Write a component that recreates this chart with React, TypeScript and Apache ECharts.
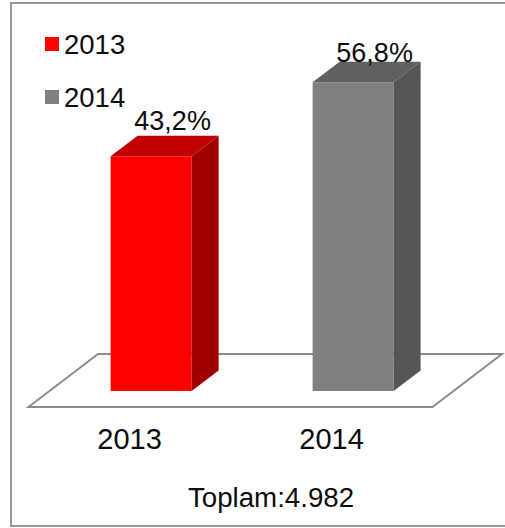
import React, { useEffect, useRef } from "react";
import * as echarts from "echarts";

const categories = ["2013", "2014"];
const seriesNames = ["2013", "2014"];
const values = [43.2, 56.8];
const totalLabel = "Toplam:4.982";

const FONT = "Liberation Sans";
const faces = [
  { front: "#ff0000", top: "#c00000", side: "#a00000" },
  { front: "#808080", top: "#606060", side: "#555555" },
];
const labelLift = [35, 29.5];

const barRender = (index: number) => (params: any, api: any) => {
  const cat = api.value(0);
  const val = api.value(1);
  const base = api.coord([cat, 0]);
  const top = api.coord([cat, val]);
  const bandW = api.size([1, 0])[0];
  const w = 81;
  const dx = 27;
  const dy = 20.5;
  // bars stand on the floor, pushed back from the plot's front edge
  const x0 = base[0] + bandW * 0.107 - w / 2;
  const x1 = x0 + w;
  const c = faces[index];
  const edge = { lineWidth: 0 };
  return {
    type: "group",
    children: [
      {
        type: "polygon",
        shape: { points: [[x0, top[1]], [x1, top[1]], [x1, base[1]], [x0, base[1]]] },
        style: { fill: c.front, ...edge },
      },
      {
        type: "polygon",
        shape: { points: [[x0, top[1]], [x0 + dx, top[1] - dy], [x1 + dx, top[1] - dy], [x1, top[1]]] },
        style: { fill: c.top, ...edge },
      },
      {
        type: "polygon",
        shape: { points: [[x1, top[1]], [x1 + dx, top[1] - dy], [x1 + dx, base[1] - dy], [x1, base[1]]] },
        style: { fill: c.side, ...edge },
      },
      {
        type: "text",
        x: x0 + w / 2 + 21.5,
        y: top[1] - labelLift[index],
        style: {
          text: val.toFixed(1).replace(".", ",") + "%",
          fill: "#0d0d0d",
          font: `27px "${FONT}"`,
          textAlign: "center",
          textVerticalAlign: "middle",
        },
      },
    ],
  };
};

const floorRender = (params: any, api: any) => {
  const g = params.coordSys;
  const backY = g.y + g.height - 37;
  const frontY = g.y + g.height + 16;
  const l = g.x;
  const r = g.x + g.width;
  return {
    type: "polygon",
    shape: { points: [[l, frontY], [l + 69.5, backY], [r + 69.5, backY], [r, frontY]] },
    style: { fill: "#ffffff", stroke: "#8c8c8c", lineWidth: 2 },
  };
};

export default function App() {
  const ref = useRef<HTMLDivElement>(null);
  useEffect(() => {
    const chart = echarts.init(ref.current!, undefined, { renderer: "svg" });
    chart.setOption({
      animation: false,
      backgroundColor: "#ffffff",
      title: {
        text: totalLabel,
        left: 266,
        top: 478,
        textAlign: "center",
        textStyle: { fontFamily: FONT, fontSize: 27.7, fontWeight: "normal", color: "#0d0d0d" },
      },
      legend: {
        data: seriesNames,
        orient: "vertical",
        left: 40,
        top: 25,
        icon: "rect",
        itemWidth: 14,
        itemHeight: 14,
        itemGap: 25,
        selectedMode: false,
        textStyle: { fontFamily: FONT, fontSize: 27.5, color: "#0d0d0d" },
      },
      grid: { left: 28.5, width: 404, top: 10.5, height: 380.5 },
      xAxis: {
        type: "category",
        data: categories,
        axisLine: { show: false },
        axisTick: { show: false },
        axisLabel: { margin: 33, fontFamily: FONT, fontSize: 29, color: "#0d0d0d" },
      },
      yAxis: { type: "value", min: 0, max: 70, show: false },
      graphic: [
        {
          type: "rect",
          z: -10,
          shape: { x: 11, y: 3, width: 500, height: 523 },
          style: { fill: "#ffffff", stroke: "#999999", lineWidth: 2 },
        },
      ],
      series: [
        {
          type: "custom",
          name: "floor",
          renderItem: floorRender,
          data: [[0, 0]],
          silent: true,
          z: 1,
        },
        ...seriesNames.map((name, i) => ({
          type: "custom",
          name,
          renderItem: barRender(i),
          itemStyle: { color: faces[i].front },
          encode: { x: 0, y: 1 },
          data: [[i, values[i]]],
          z: 2,
        })),
      ],
    });
    return () => chart.dispose();
  }, []);
  return <div ref={ref} style={{ position: "fixed", left: 0, top: 0, width: 505, height: 528 }} />;
}
